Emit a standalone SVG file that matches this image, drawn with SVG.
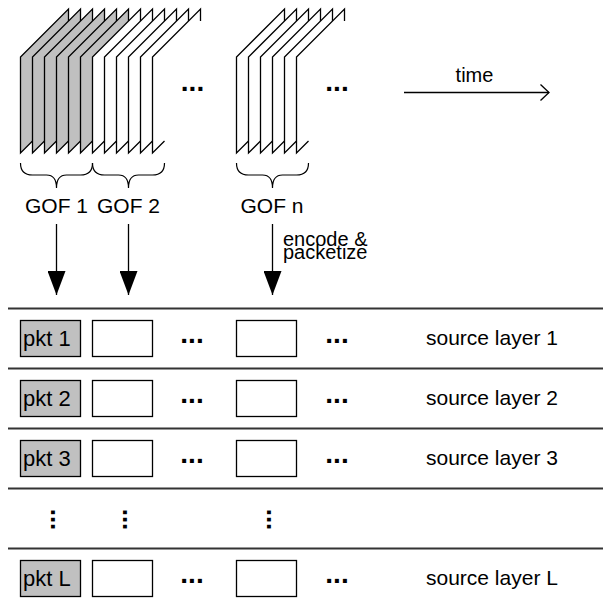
<svg xmlns="http://www.w3.org/2000/svg" xmlns:xlink="http://www.w3.org/1999/xlink" width="603" height="607" viewBox="0 0 603 607">
  <style>
    text { font-family: "Liberation Sans", Arial, sans-serif; fill: #000; }
    .lbl { font-size: 21px; }
    .pkt { font-size: 22px; }
    .small { font-size: 20px; }
    .dots { font-size: 28px; font-weight: bold; }
    .vdots { font-size: 26px; font-weight: bold; }
    .frame { stroke: #000; stroke-width: 1.3; stroke-linejoin: miter; }
    .gray { fill: #c0c0c0; }
    .white { fill: #fff; }
    .brace { fill: none; stroke: #000; stroke-width: 1.2; }
    .box { stroke: #000; stroke-width: 1.3; }
    .sep { stroke: #333; stroke-width: 2; }
    .conn { stroke: #000; stroke-width: 1.3; fill: none; }
  </style>
  <defs>
    <!-- one video frame seen in perspective; fill closes, stroke stays open -->
    <path id="frm" d="M12,141 L0,153 L0,57 L48,9 L48,21"/>
    <marker id="head" viewBox="0 0 24 18" refX="24" refY="9" markerWidth="24" markerHeight="18" markerUnits="userSpaceOnUse" orient="auto">
      <path d="M0,0 L24,9 L0,18 Z" fill="#000"/>
    </marker>
  </defs>

  <!-- frames: GOF 1 (gray), GOF 2 (white), GOF n (white) -->
  <g id="gof1-frames" class="frame gray">
    <use xlink:href="#frm" x="20.5"/>
    <use xlink:href="#frm" x="32.5"/>
    <use xlink:href="#frm" x="44.5"/>
    <use xlink:href="#frm" x="56.5"/>
    <use xlink:href="#frm" x="68.5"/>
    <use xlink:href="#frm" x="80.5"/>
  </g>
  <g id="gof2-frames" class="frame white">
    <use xlink:href="#frm" x="92.5"/>
    <use xlink:href="#frm" x="104.5"/>
    <use xlink:href="#frm" x="116.5"/>
    <use xlink:href="#frm" x="128.5"/>
    <use xlink:href="#frm" x="140.5"/>
    <use xlink:href="#frm" x="152.5"/>
  </g>
  <g id="gofn-frames" class="frame white">
    <use xlink:href="#frm" x="236.5"/>
    <use xlink:href="#frm" x="248.5"/>
    <use xlink:href="#frm" x="260.5"/>
    <use xlink:href="#frm" x="272.5"/>
    <use xlink:href="#frm" x="284.5"/>
    <use xlink:href="#frm" x="296.5"/>
  </g>
  <g id="frame-gaps">
    <text class="dots" x="192.5" y="90.5" text-anchor="middle">...</text>
    <text class="dots" x="337" y="90.5" text-anchor="middle">...</text>
  </g>

  <!-- time axis -->
  <g id="time">
    <line class="conn" x1="404" y1="92.5" x2="549" y2="92.5"/>
    <polyline class="conn" points="540.5,84.5 549,92.5 540.5,100.5"/>
    <text class="small" x="474.5" y="81.5" text-anchor="middle">time</text>
  </g>

  <!-- braces and GOF labels -->
  <g id="gof1">
    <path class="brace" d="M20.5,163 Q20.5,175 32.5,175 L46.5,175 Q56.5,175 56.5,188 Q56.5,175 66.5,175 L80.5,175 Q92.5,175 92.5,163"/>
    <text class="lbl" x="56.5" y="213" text-anchor="middle">GOF 1</text>
  </g>
  <g id="gof2">
    <path class="brace" d="M92.5,163 Q92.5,175 104.5,175 L118.5,175 Q128.5,175 128.5,188 Q128.5,175 138.5,175 L152.5,175 Q164.5,175 164.5,163"/>
    <text class="lbl" x="128.5" y="213" text-anchor="middle">GOF 2</text>
  </g>
  <g id="gofn">
    <path class="brace" d="M236.5,163 Q236.5,175 248.5,175 L262.5,175 Q272.5,175 272.5,188 Q272.5,175 282.5,175 L296.5,175 Q308.5,175 308.5,163"/>
    <text class="lbl" x="272" y="213" text-anchor="middle">GOF n</text>
  </g>

  <!-- encode arrows -->
  <g id="connectors">
    <line class="conn" x1="56.5" y1="224" x2="56.5" y2="295" marker-end="url(#head)"/>
    <line class="conn" x1="128.5" y1="224" x2="128.5" y2="295" marker-end="url(#head)"/>
    <line class="conn" x1="272.5" y1="224" x2="272.5" y2="295" marker-end="url(#head)"/>
  </g>
  <g id="encode-label">
    <text class="small" x="283" y="245.5">encode &amp;</text>
    <text class="small" x="283" y="258.5">packetize</text>
  </g>

  <!-- layer separators -->
  <g id="separators">
    <line class="sep" x1="8" y1="308.5" x2="603" y2="308.5"/>
    <line class="sep" x1="8" y1="368.5" x2="603" y2="368.5"/>
    <line class="sep" x1="8" y1="428.5" x2="603" y2="428.5"/>
    <line class="sep" x1="8" y1="488.5" x2="603" y2="488.5"/>
    <line class="sep" x1="8" y1="548.5" x2="603" y2="548.5"/>
  </g>

  <!-- source layer 1 -->
  <g id="layer1">
    <rect class="box gray" x="20.5" y="320.5" width="60" height="36"/>
    <text class="pkt" x="23" y="345.5">pkt 1</text>
    <rect class="box white" x="92.5" y="320.5" width="60" height="36"/>
    <text class="dots" x="192" y="342.5" text-anchor="middle">...</text>
    <rect class="box white" x="236.5" y="320.5" width="60" height="36"/>
    <text class="dots" x="337" y="342.5" text-anchor="middle">...</text>
    <text class="lbl" x="426" y="345">source layer 1</text>
  </g>

  <!-- source layer 2 -->
  <g id="layer2">
    <rect class="box gray" x="20.5" y="380.5" width="60" height="36"/>
    <text class="pkt" x="23" y="405.5">pkt 2</text>
    <rect class="box white" x="92.5" y="380.5" width="60" height="36"/>
    <text class="dots" x="192" y="402.5" text-anchor="middle">...</text>
    <rect class="box white" x="236.5" y="380.5" width="60" height="36"/>
    <text class="dots" x="337" y="402.5" text-anchor="middle">...</text>
    <text class="lbl" x="426" y="405">source layer 2</text>
  </g>

  <!-- source layer 3 -->
  <g id="layer3">
    <rect class="box gray" x="20.5" y="440.5" width="60" height="36"/>
    <text class="pkt" x="23" y="465.5">pkt 3</text>
    <rect class="box white" x="92.5" y="440.5" width="60" height="36"/>
    <text class="dots" x="192" y="462.5" text-anchor="middle">...</text>
    <rect class="box white" x="236.5" y="440.5" width="60" height="36"/>
    <text class="dots" x="337" y="462.5" text-anchor="middle">...</text>
    <text class="lbl" x="426" y="465">source layer 3</text>
  </g>

  <!-- omitted layers -->
  <g id="layer-gap">
    <text class="vdots" transform="translate(50.8,519.5) rotate(90)" text-anchor="middle">...</text>
    <text class="vdots" transform="translate(122.8,519.5) rotate(90)" text-anchor="middle">...</text>
    <text class="vdots" transform="translate(267.4,519.5) rotate(90)" text-anchor="middle">...</text>
  </g>

  <!-- source layer L -->
  <g id="layerL">
    <rect class="box gray" x="20.5" y="560.5" width="60" height="36"/>
    <text class="pkt" x="23" y="585.5">pkt L</text>
    <rect class="box white" x="92.5" y="560.5" width="60" height="36"/>
    <text class="dots" x="192" y="582.5" text-anchor="middle">...</text>
    <rect class="box white" x="236.5" y="560.5" width="60" height="36"/>
    <text class="dots" x="337" y="582.5" text-anchor="middle">...</text>
    <text class="lbl" x="426" y="585">source layer L</text>
  </g>
</svg>
